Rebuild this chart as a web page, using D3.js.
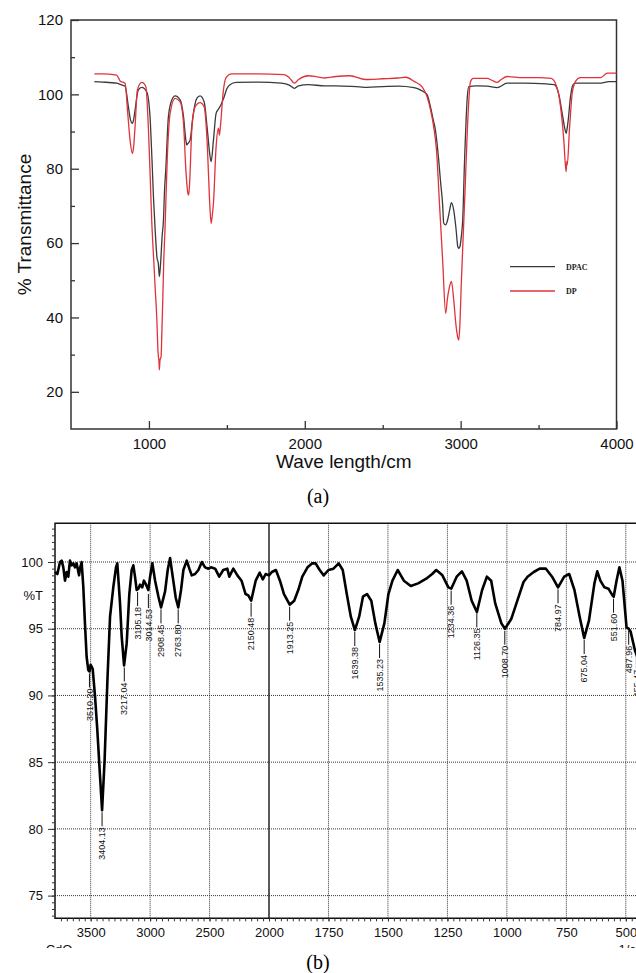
<!DOCTYPE html>
<html>
<head>
<meta charset="utf-8">
<script src="https://cdn.jsdelivr.net/npm/d3@7.9.0/dist/d3.min.js"></script>
<style>
  body { margin: 0; background: #fff; }
  svg { display: block; }
</style>
</head>
<body>
<div id="chart"></div>
<script>
// ---------- panel (a): [wavenumber, % transmittance] ----------
const dpacSpectrum = [
  [650,103.4],[700,103.3],[793,103.0],[820,102.6],[847,102.2],[868,96.7],[880,93.5],[894,92.2],[903,93.5],
  [911,95.8],[932,101.2],[954,101.9],[986,100.7],[1007,94],[1020,82],[1029,72.5],[1040,63.5],[1052,56],
  [1060,54.6],[1067,51],[1074,54],[1085,62],[1093,66],[1100,74],[1108,79.7],[1125,94],[1147,98.5],
  [1168,99.6],[1200,98.5],[1222,94],[1236,88],[1243,86.4],[1250,86.8],[1264,87.7],[1282,94],[1307,98.9],
  [1328,99.6],[1354,98],[1375,90.4],[1390,84],[1399,81.9],[1414,87.7],[1431,94.9],[1446,96],[1460,97],
  [1480,99],[1500,101.5],[1520,102.6],[1560,103.2],[1700,103.3],[1850,103],[1900,102.5],[1934,101.6],
  [1960,102.3],[2023,102.6],[2128,102.3],[2200,102.3],[2350,102],[2400,101.9],[2500,102.1],[2600,102.2],
  [2700,101.8],[2741,101.2],[2770,100.5],[2786,99.8],[2806,96.7],[2825,93],[2838,90.4],[2860,82],
  [2870,77],[2885,70],[2891,65.4],[2904,64.9],[2915,66],[2930,69],[2941,70.9],[2955,69],[2970,64],
  [2982,59],[2988,58.6],[2995,59],[3005,62],[3013,66],[3025,82],[3043,99.4],[3052,102.1],[3100,102.3],
  [3170,102.2],[3234,101.8],[3298,103],[3400,103],[3550,102.8],[3600,102.6],[3630,100],[3655,94],
  [3670,90.5],[3677,89.5],[3684,91],[3690,93],[3705,99.4],[3720,102.5],[3737,103],[3800,103],[3900,103],
  [3950,103.4],[4000,103.4]
];
const dpSpectrum = [
  [650,105.5],[700,105.5],[793,105.2],[815,103.6],[847,103],[864,94.9],[879,87.7],[894,84.1],[902,86],
  [911,91.3],[926,101.2],[954,103.2],[980,102.1],[997,90.4],[1008,78],[1018,66],[1030,56],[1040,48],
  [1051,39.3],[1058,31],[1061,29.4],[1064,28.5],[1067,25.9],[1071,28.5],[1078,29.4],[1083,36],[1089,45],
  [1095,55],[1103,63.5],[1118,83.2],[1136,94.9],[1168,98.9],[1200,98],[1222,92.2],[1237,79.7],
  [1250,73.4],[1255,72.9],[1261,76.1],[1275,90.4],[1297,96.7],[1328,97.8],[1354,96.7],[1375,85.9],
  [1388,72.5],[1399,65.3],[1405,67],[1414,70.7],[1431,85.9],[1446,90.9],[1452,89],[1460,92],[1475,100],
  [1495,104.5],[1530,105.5],[1700,105.5],[1867,105.3],[1900,104.5],[1934,103],[1960,104],[2023,105],
  [2080,104.7],[2128,104.4],[2200,104.8],[2290,105],[2389,104],[2500,104.2],[2600,104.4],[2650,104.6],
  [2701,103.5],[2753,102],[2784,99.4],[2806,96],[2827,91.3],[2845,85],[2865,70],[2885,55],[2904,41.1],
  [2915,45],[2930,48.5],[2941,49.7],[2955,45],[2970,38],[2982,34.5],[2988,33.9],[2995,38],[3005,50],
  [3018,63.5],[3030,76],[3043,90.4],[3063,103.4],[3080,104.3],[3170,104.3],[3200,103.8],[3234,103.2],
  [3260,104],[3298,104.8],[3400,104.5],[3500,104.5],[3580,104.3],[3608,103],[3641,96.7],[3662,87.7],
  [3672,81],[3677,79.2],[3681,82],[3684,81],[3698,90.4],[3716,100.3],[3737,103.5],[3769,104.5],
  [3898,104.5],[3941,105.7],[4000,105.7]
];
const aSeriesNames = ['DPAC', 'DP'];
const aXTicks = [1000, 2000, 3000, 4000];
const aXMinor = [1500, 2500, 3500];
const aYTicks = [20, 40, 60, 80, 100, 120];
const aYMinor = [30, 50, 70, 90, 110];

// ---------- panel (b): CdO spectrum ----------
const cdoSpectrum = [
  [3800,99.25],[3780,99.1],[3758,100.0],[3744,100.1],[3730,99.6],[3716,98.6],[3702,99.25],[3688,98.9],
  [3674,100.1],[3660,99.75],[3646,99.9],[3632,99.6],[3618,99.9],[3598,99.0],[3590,99.5],[3576,100.0],
  [3562,98.15],[3548,95.4],[3534,92.9],[3520,91.9],[3510,91.8],[3500,92.3],[3483,92.0],[3463,89.9],
  [3444,87.4],[3425,84.5],[3404,81.4],[3383,85.1],[3358,91.4],[3337,95.9],[3309,98.15],[3287,99.6],
  [3276,99.9],[3253,96.9],[3239,94.4],[3219,92.25],[3197,93.9],[3175,97.6],[3155,99.4],[3141,99.75],
  [3127,98.9],[3113,97.9],[3099,98.0],[3085,98.3],[3066,98.1],[3052,98.6],[3034,98.3],[3015,97.9],
  [3000,98.9],[2981,99.9],[2958,98.6],[2930,97.4],[2908,96.6],[2874,97.8],[2852,99.4],[2832,100.3],
  [2810,98.9],[2784,97.3],[2763,96.6],[2740,97.9],[2720,99.4],[2692,100.1],[2670,99.5],[2650,99.0],
  [2622,99.1],[2594,99.4],[2565,100.0],[2538,99.6],[2510,99.5],[2488,99.6],[2453,99.5],[2419,98.9],
  [2385,99.4],[2351,99.5],[2334,98.9],[2300,99.5],[2266,99.0],[2231,98.6],[2197,97.6],[2174,97.5],
  [2150,97.1],[2112,98.6],[2078,99.2],[2052,98.7],[2028,99.1],[2000,99.0],[1988,99.25],[1971,99.4],
  [1954,98.6],[1937,97.6],[1913,96.8],[1894,97.1],[1877,97.9],[1860,98.9],[1838,99.6],[1818,99.9],
  [1804,99.9],[1787,99.4],[1770,99.0],[1750,99.4],[1729,99.5],[1707,99.9],[1690,99.4],[1673,97.6],
  [1656,95.9],[1639,94.9],[1621,95.9],[1605,97.4],[1588,97.6],[1570,97.1],[1553,95.4],[1535,94.0],
  [1515,95.4],[1498,97.6],[1481,98.6],[1459,99.4],[1433,98.6],[1404,98.2],[1373,98.4],[1339,98.75],
  [1314,99.1],[1297,99.4],[1271,99.0],[1246,98.1],[1234,98.0],[1211,98.9],[1189,99.3],[1169,98.6],
  [1148,97.1],[1126,96.25],[1104,97.9],[1084,98.9],[1066,98.6],[1049,96.9],[1023,95.4],[1008,95.0],
  [981,95.75],[956,97.1],[930,98.5],[913,98.9],[887,99.25],[862,99.5],[836,99.5],[810,98.9],[785,98.1],
  [759,98.9],[738,99.1],[716,97.9],[694,95.9],[675,94.3],[655,95.6],[632,98.4],[620,99.3],[607,98.6],
  [590,98.1],[573,98.0],[556,97.5],[551,97.4],[539,98.6],[527,99.6],[514,98.6],[497,95.1],[488,95.0],
  [480,94.8],[462,93.4],[450,92.8],[420,92]
];
// peak markers: wavenumber, %T at the minimum, printed label
const cdoPeaks = [
  [3510.20, 91.8, '3510.20'], [3404.13, 81.4, '3404.13'], [3217.04, 92.25, '3217.04'],
  [3105.18, 97.9, '3105.18'], [3014.53, 97.75, '3014.53'], [2908.45, 96.6, '2908.45'],
  [2763.80, 96.6, '2763.80'], [2150.48, 97.1, '2150.48'], [1913.25, 96.8, '1913.25'],
  [1639.38, 94.9, '1639.38'], [1535.23, 94.0, '1535.23'], [1234.36, 98.0, '1234.36'],
  [1126.35, 96.3, '1126.35'], [1008.70, 95.0, '1008.70'], [784.97, 98.1, '784.97'],
  [675.04, 94.3, '675.04'], [551.60, 97.4, '551.60'], [487.96, 95.0, '487.96'],
  [455.47, 93.2, '455.47']
];
const bXTicks = [3500, 3000, 2500, 1750, 1500, 1250, 1000, 750, 500];
const bBreak = 2000;
const bYTicks = [75, 80, 85, 90, 95, 100];

const W = 636, H = 973;
const sans = '"Liberation Sans", Arial, sans-serif';
const serif = '"Liberation Serif", "Times New Roman", serif';

const svg = d3.select('#chart').append('svg')
  .attr('width', W).attr('height', H)
  .attr('viewBox', `0 0 ${W} ${H}`);

// =============== panel (a) ===============
const ax = d3.scaleLinear().domain([500, 4000]).range([71, 616.5]);
const ay = d3.scaleLinear().domain([10, 120]).range([429, 20]);
const ga = svg.append('g');

function styleAxis(g, size) {
  g.select('.domain').remove();
  g.selectAll('.tick line').attr('stroke', '#333').attr('stroke-width', 1.3);
  g.selectAll('.tick text').attr('font-family', sans).attr('font-size', size).attr('fill', '#111');
}

ga.append('g').attr('transform', 'translate(0,429)')
  .call(d3.axisBottom(ax).tickValues(aXTicks).tickSize(-8).tickPadding(9).tickFormat(d3.format('d')))
  .call(g => styleAxis(g, 15));
ga.append('g').attr('transform', 'translate(0,429)')
  .call(d3.axisBottom(ax).tickValues(aXMinor).tickSize(-4).tickFormat(''))
  .call(g => styleAxis(g, 15));
ga.append('g').attr('transform', 'translate(71,0)')
  .call(d3.axisLeft(ay).tickValues(aYTicks).tickSize(-8).tickPadding(8))
  .call(g => styleAxis(g, 15));
ga.append('g').attr('transform', 'translate(71,0)')
  .call(d3.axisLeft(ay).tickValues(aYMinor).tickSize(-4).tickFormat(''))
  .call(g => styleAxis(g, 15));

ga.append('rect')
  .attr('x', ax(500)).attr('y', ay(120))
  .attr('width', ax(4000) - ax(500)).attr('height', ay(10) - ay(120))
  .attr('fill', 'none').attr('stroke', '#333').attr('stroke-width', 1.5);

const aLine = d3.line().x(d => ax(d[0])).y(d => ay(d[1])).curve(d3.curveMonotoneX);
const aColors = { DPAC: '#3a3a3a', DP: '#e0323a' };
ga.append('path').datum(dpacSpectrum).attr('d', aLine)
  .attr('fill', 'none').attr('stroke', aColors.DPAC).attr('stroke-width', 1.3);
ga.append('path').datum(dpSpectrum).attr('d', aLine)
  .attr('fill', 'none').attr('stroke', aColors.DP).attr('stroke-width', 1.3);

// legend
const leg = ga.append('g');
aSeriesNames.forEach((name, i) => {
  const ly = 266.7 + i * 24.3;
  leg.append('line').attr('x1', 510).attr('x2', 555).attr('y1', ly).attr('y2', ly)
    .attr('stroke', aColors[name]).attr('stroke-width', 1.3);
  leg.append('text').attr('x', 566).attr('y', ly).attr('dy', '0.35em')
    .attr('font-family', serif).attr('font-weight', 'bold').attr('font-size', 8)
    .attr('fill', '#222').text(name);
});

ga.append('text')
  .attr('transform', `translate(24,${(ay(10) + ay(120)) / 2}) rotate(-90)`)
  .attr('text-anchor', 'middle').attr('dy', '0.35em')
  .attr('font-family', sans).attr('font-size', 19).attr('fill', '#111')
  .text('% Transmittance');
ga.append('text')
  .attr('x', (ax(500) + ax(4000)) / 2).attr('y', 468)
  .attr('text-anchor', 'middle')
  .attr('font-family', sans).attr('font-size', 19).attr('fill', '#111')
  .text('Wave length/cm');

svg.append('text').attr('x', 318).attr('y', 503).attr('text-anchor', 'middle')
  .attr('font-family', serif).attr('font-size', 20).attr('fill', '#000').text('(a)');

// =============== panel (b) ===============
const bx = d3.scaleLinear().domain([3800, bBreak, 400]).range([55, 269, 649.6]);
const by = d3.scaleLinear().domain([73.3, 102.9]).range([918.3, 523.3]);
const bTop = by(102.9), bBottom = by(73.3), bLeft = bx(3800);

svg.append('clipPath').attr('id', 'clipB')
  .append('rect').attr('x', 0).attr('y', 510).attr('width', W).attr('height', 948 - 510);
const gb = svg.append('g').attr('clip-path', 'url(#clipB)');

// dotted grid
gb.append('g').selectAll('line').data(bYTicks).join('line')
  .attr('x1', bLeft).attr('x2', W).attr('y1', d => by(d)).attr('y2', d => by(d))
  .attr('stroke', '#333').attr('stroke-width', 1).attr('stroke-dasharray', '1,1');
gb.append('g').selectAll('line').data(bXTicks).join('line')
  .attr('x1', d => bx(d)).attr('x2', d => bx(d)).attr('y1', bTop).attr('y2', bBottom)
  .attr('stroke', '#333').attr('stroke-width', 1).attr('stroke-dasharray', '1,1');
gb.append('line')
  .attr('x1', bx(bBreak)).attr('x2', bx(bBreak)).attr('y1', bTop).attr('y2', bBottom)
  .attr('stroke', '#222').attr('stroke-width', 1.5);

// frame
gb.append('path')
  .attr('d', `M${W + 10},${bTop}H${bLeft}V${bBottom}H${W + 10}`)
  .attr('fill', 'none').attr('stroke', '#111').attr('stroke-width', 1.5);

// axes
const bMinorX = d3.range(3750, bBreak, -50).concat(d3.range(bBreak, 400, -25));
gb.append('g').attr('transform', `translate(0,${bBottom})`)
  .call(d3.axisBottom(bx).tickValues(bMinorX).tickSize(3).tickFormat(''))
  .call(g => styleAxis(g, 13));
gb.append('g').attr('transform', `translate(0,${bBottom})`)
  .call(d3.axisBottom(bx).tickValues(bXTicks.concat([bBreak])).tickSize(3).tickPadding(6).tickFormat(d3.format('d')))
  .call(g => styleAxis(g, 13));
gb.append('g').attr('transform', `translate(${bLeft},0)`)
  .call(d3.axisLeft(by).tickValues(d3.range(73.5, 103, 0.5)).tickSize(3).tickFormat(''))
  .call(g => styleAxis(g, 13));
gb.append('g').attr('transform', `translate(${bLeft},0)`)
  .call(d3.axisLeft(by).tickValues(bYTicks).tickSize(7).tickPadding(5))
  .call(g => styleAxis(g, 13));
gb.selectAll('.tick line').attr('stroke-width', 1);

gb.append('text').attr('x', bLeft - 12).attr('y', by(97.5)).attr('dy', '0.35em')
  .attr('text-anchor', 'end').attr('font-family', sans).attr('font-size', 13).attr('fill', '#111')
  .text('%T');
gb.append('text').attr('x', 45.7).attr('y', 953.5)
  .attr('font-family', sans).attr('font-size', 13).attr('fill', '#111').text('CdO');
gb.append('text').attr('x', 618.5).attr('y', 953.5)
  .attr('font-family', sans).attr('font-size', 13).attr('fill', '#111').text('1/cm');

// spectrum
const bLine = d3.line().x(d => bx(d[0])).y(d => by(d[1]));
gb.append('path').datum(cdoSpectrum).attr('d', bLine)
  .attr('fill', 'none').attr('stroke', '#000').attr('stroke-width', 2.6)
  .attr('stroke-linejoin', 'round');

// peak labels
const pk = gb.append('g').selectAll('g').data(cdoPeaks).join('g')
  .attr('transform', d => `translate(${bx(d[0])},${by(d[1])})`);
pk.append('line').attr('x1', 0).attr('x2', 0).attr('y1', 2).attr('y2', 16)
  .attr('stroke', '#111').attr('stroke-width', 1);
pk.append('text').attr('transform', 'translate(0,17) rotate(-90)')
  .attr('text-anchor', 'end').attr('dy', '0.35em')
  .attr('font-family', sans).attr('font-size', 9).attr('fill', '#111')
  .text(d => d[2]);

svg.append('text').attr('x', 318).attr('y', 969).attr('text-anchor', 'middle')
  .attr('font-family', serif).attr('font-size', 20).attr('fill', '#000').text('(b)');
</script>
</body>
</html>
